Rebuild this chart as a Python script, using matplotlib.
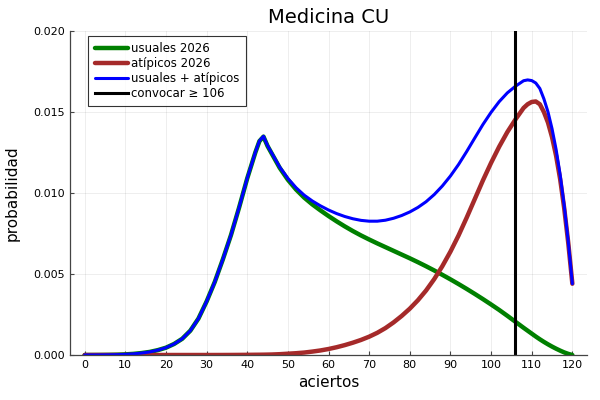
import numpy as np
import matplotlib
matplotlib.use("Agg")
import matplotlib.pyplot as plt

# aciertos (x) and probabilities
aciertos = [0, 2, 4, 6, 8, 10, 12, 14, 16, 18, 20, 22, 24, 26, 28, 30, 32, 34, 36,
            38, 40, 42, 43, 44, 45, 46, 48, 50, 52, 54, 56, 58, 60, 62, 64, 66,
            68, 70, 72, 74, 76, 78, 80, 82, 84, 86, 88, 90, 92, 94, 96, 98, 100,
            102, 104, 106, 108, 109, 110, 111, 112, 113, 114, 115, 116, 117, 118,
            119, 120]

usuales = [0.0, 0.000001, 0.000004, 0.00001, 0.00002, 0.00004, 0.00007, 0.00012,
           0.00019, 0.00030, 0.00045, 0.00068, 0.00100, 0.00150, 0.00225, 0.0033,
           0.0045, 0.0059, 0.0074, 0.0091, 0.0109, 0.0125,
           0.0132, 0.01348, 0.0129,
           0.01245, 0.01155, 0.01082, 0.01022, 0.00972, 0.00930, 0.00893, 0.00858,
           0.00825, 0.00794, 0.00765, 0.00738, 0.00713, 0.00689, 0.00666, 0.00643,
           0.00620, 0.00597, 0.00573, 0.00548, 0.00522, 0.00495, 0.00467, 0.00438,
           0.00408, 0.00377, 0.00345, 0.00312, 0.00278, 0.00242, 0.00205, 0.00168,
           0.00150, 0.00132, 0.00114, 0.00097, 0.00081, 0.00066, 0.00052, 0.00039,
           0.00027, 0.00016, 0.00007, 0.0]

atipicos = [0.0, 0.0, 0.0, 0.0, 0.0, 0.0, 0.0, 0.0, 0.0, 0.0, 0.0, 0.0, 0.0, 0.0,
            0.0, 0.0, 0.0, 0.000001, 0.000003, 0.000006, 0.00001, 0.000015,
            0.000017, 0.00002, 0.000025,
            0.00003, 0.00005, 0.00008, 0.00011, 0.00015, 0.00021, 0.00028, 0.00037,
            0.00048, 0.00061, 0.00076, 0.00093, 0.00113, 0.00137, 0.00166, 0.00201,
            0.00241, 0.00286, 0.00338, 0.00398, 0.00468, 0.00548, 0.00638, 0.00738,
            0.00848, 0.00963, 0.01078, 0.01186, 0.01286, 0.01376, 0.01454, 0.01525,
            0.01548, 0.01562, 0.01565, 0.01548, 0.01500, 0.01435, 0.01345, 0.01230,
            0.01085, 0.00905, 0.00690, 0.0044]

corte = 106

x = np.array(aciertos)
u = np.array(usuales)
a = np.array(atipicos)
total = u + a

fig = plt.figure(figsize=(6, 4), dpi=100)
ax = fig.add_axes([0.1167, 0.1125, 0.8616, 0.81])

ax.plot(x, u, color="#008000", lw=3.2, label="usuales 2026", solid_capstyle="round")
ax.plot(x, a, color="#A52A2A", lw=3.2, label="atípicos 2026", solid_capstyle="round")
ax.plot(x, total, color="#0000FF", lw=2.2, label="usuales + atípicos", solid_capstyle="round")
ax.axvline(corte, color="black", lw=2.2, label="convocar ≥ 106")

ax.set_xlim(-3.6, 123.6)
ax.set_ylim(0, 0.02)
ax.set_xticks(np.arange(0, 121, 10))
ax.set_yticks([0, 0.005, 0.010, 0.015, 0.020])
ax.set_yticklabels(["0.000", "0.005", "0.010", "0.015", "0.020"])
ax.tick_params(direction="in", labelsize=8, length=3, width=0.8, colors="#444444",
               labelcolor="black")
ax.grid(True, color="black", alpha=0.08, lw=0.6)
for s in ["top", "right"]:
    ax.spines[s].set_visible(False)
for s in ["left", "bottom"]:
    ax.spines[s].set_color("#444444")
    ax.spines[s].set_linewidth(0.9)

ax.set_title("Medicina CU", fontsize=14)
ax.set_xlabel("aciertos", fontsize=11)
ax.set_ylabel("probabilidad", fontsize=11, labelpad=10)

leg = ax.legend(loc="upper left", fontsize=8.5, frameon=True, fancybox=False,
                handlelength=2.8, handletextpad=0.3, labelspacing=0.15,
                borderpad=0.55, borderaxespad=0, bbox_to_anchor=(0.035, 0.985))
leg.get_frame().set_edgecolor("black")
leg.get_frame().set_linewidth(0.8)

fig.savefig("out.png", dpi=100)
